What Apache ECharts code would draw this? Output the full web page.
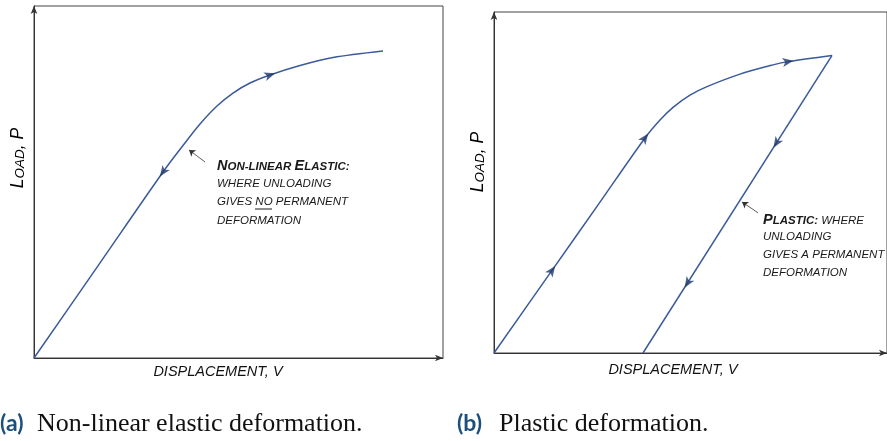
<!DOCTYPE html>
<html>
<head>
<meta charset="utf-8">
<script src="https://cdn.jsdelivr.net/npm/echarts@6/dist/echarts.min.js"></script>
<style>
    html, body { margin: 0; padding: 0; background: #fff; }
    #main { width: 887px; height: 441px; }
</style>
</head>
<body>
<div id="main"></div>
<script>
// (a) non-linear elastic: one loading/unloading path
const elasticX = [0, 15.77, 31.54, 36.43, 40.59, 44.74, 48.66, 52.81, 57.70, 65.04, 73.11, 85.33]
const elasticY = [0, 26.39, 52.84, 60.37, 66.48, 71.59, 75.28, 78.13, 80.40, 83.10, 85.37, 87.22]
// arrows: [x, y, dir]  dir 1 = along the array order, -1 = against it
const elasticArrows = [[57.70, 80.40, 1], [31.54, 52.84, -1]]

// (b) plastic: loading curve then straight unloading line
const loadX = [0, 14.76, 26.97, 38.42, 42.24, 45.55, 49.87, 54.20, 62.60, 70.99, 74.81, 86.01]
const loadY = [0, 24.22, 44.25, 63.05, 68.33, 72.05, 75.63, 78.12, 81.79, 84.49, 85.45, 87.27]
const unloadX = [86.01, 37.91]
const unloadY = [87.27, 0]
const loadArrows = [[14.76, 24.22, 1], [38.42, 63.05, 1], [74.81, 85.45, 1]]
const unloadArrows = [[71.86, 61.58, 1], [49.24, 20.53, 1]]

// callout pointers [from, to]
const elasticPointer = [[41.8, 55.7], [37.9, 59.1]]
const plasticPointer = [[67.2, 41.1], [63.1, 44.3]]

const curveColor = '#3a5a9a'
const arrowColor = '#1f3a6b'
const arrowPath = 'path://M5,0 L10,12 L5,9 L0,12 Z'

const chart = echarts.init(document.getElementById('main'))

const toPairs = (xs, ys) => xs.map((x, i) => [x, ys[i]])

const axisBase = {
    type: 'value',
    min: 0,
    max: 100,
    axisLine: {
        show: true,
        symbol: ['none', 'arrow'],
        symbolSize: [5, 8],
        lineStyle: { color: '#333', width: 1 }
    },
    axisTick: { show: false },
    axisLabel: { show: false },
    splitLine: { show: false }
}

const curve = (idx, xs, ys, pointer) => ({
    type: 'line',
    xAxisIndex: idx,
    yAxisIndex: idx,
    data: toPairs(xs, ys),
    smooth: 0.3,
    showSymbol: false,
    lineStyle: { color: curveColor, width: 1.5 },
    silent: true,
    markLine: pointer ? {
        silent: true,
        symbol: ['none', 'arrow'],
        symbolSize: 6,
        label: { show: false },
        lineStyle: { color: '#333', width: 0.8, type: 'solid' },
        data: [[{ coord: pointer[0] }, { coord: pointer[1] }]]
    } : undefined
})

const arrowSeries = (idx, name) => ({
    id: name,
    type: 'scatter',
    xAxisIndex: idx,
    yAxisIndex: idx,
    symbol: arrowPath,
    symbolSize: [9, 11],
    itemStyle: { color: arrowColor },
    silent: true,
    z: 5,
    data: []
})

const capsFont = { fontFamily: 'Liberation Sans', fontStyle: 'italic' }
const note = (x, y, text, rich) => ({
    type: 'text',
    x, y,
    style: {
        text,
        ...capsFont,
        fontSize: 11.5,
        fill: '#1a1a1a',
        verticalAlign: 'middle',
        rich
    }
})
const headRich = {
    b: { fontSize: 14.5, fontWeight: 'bold', fontStyle: 'italic', fontFamily: 'Liberation Sans', color: '#151515', verticalAlign: 'bottom', lineHeight: 16 },
    s: { fontSize: 11.5, fontWeight: 'bold', fontStyle: 'italic', fontFamily: 'Liberation Sans', color: '#151515', verticalAlign: 'bottom', lineHeight: 16 },
    n: { fontSize: 11.5, fontStyle: 'italic', fontFamily: 'Liberation Sans', color: '#1a1a1a', verticalAlign: 'bottom', lineHeight: 16 }
}
const loadLabel = (x, y) => ({
    type: 'text',
    x, y,
    rotation: Math.PI / 2,
    style: {
        text: '{b|L}{s|OAD}{b|, P}',
        align: 'center',
        verticalAlign: 'middle',
        rich: {
            b: { ...capsFont, fontSize: 17.5, color: '#111', verticalAlign: 'bottom', lineHeight: 20 },
            s: { ...capsFont, fontSize: 13.5, color: '#111', verticalAlign: 'bottom', lineHeight: 20 }
        }
    }
})
const dispLabel = (x, y) => ({
    type: 'text',
    x, y,
    style: {
        text: 'DISPLACEMENT, V',
        ...capsFont,
        fontSize: 14.5,
        fill: '#111',
        align: 'center',
        verticalAlign: 'middle'
    }
})
const caption = (x, tag, text, textX) => [
    {
        type: 'text', x, y: 424,
        style: { text: tag, fontFamily: 'Lato', fontWeight: 'bold', fontSize: 23, fill: '#1d4e7c', verticalAlign: 'middle' }
    },
    {
        type: 'text', x: textX, y: 424,
        style: { text, fontFamily: 'Liberation Serif', fontSize: 26, fill: '#111', verticalAlign: 'middle' }
    }
]

let option = {
    animation: false,
    backgroundColor: '#fff',
    grid: [
        { left: 34, top: 6, width: 409, height: 352, show: true, borderColor: '#444', borderWidth: 1 },
        { left: 494, top: 12, width: 393, height: 341, show: true, borderColor: '#444', borderWidth: 1 }
    ],
    xAxis: [
        { ...axisBase, gridIndex: 0 },
        { ...axisBase, gridIndex: 1 }
    ],
    yAxis: [
        { ...axisBase, gridIndex: 0 },
        { ...axisBase, gridIndex: 1 }
    ],
    series: [
        curve(0, elasticX, elasticY, elasticPointer),
        curve(1, loadX, loadY, null),
        curve(1, unloadX, unloadY, plasticPointer),
        arrowSeries(0, 'arrowsA'),
        arrowSeries(1, 'arrowsB')
    ],
    graphic: [
        loadLabel(17, 158),
        loadLabel(477, 162),
        dispLabel(218, 372),
        dispLabel(673, 370),
        note(217, 165, '{b|N}{s|ON-LINEAR} {b|E}{s|LASTIC:}', headRich),
        note(217, 184, 'WHERE UNLOADING'),
        note(217, 202, 'GIVES NO PERMANENT'),
        { type: 'line', shape: { x1: 255, y1: 209, x2: 272, y2: 209 }, style: { stroke: '#1a1a1a', lineWidth: 1 } },
        note(217, 221, 'DEFORMATION'),
        note(763, 219, '{b|P}{s|LASTIC:} {n|WHERE}', headRich),
        note(763, 237, 'UNLOADING'),
        note(763, 255, 'GIVES A PERMANENT'),
        note(763, 273, 'DEFORMATION'),
        ...caption(0, '(a)', 'Non-linear elastic deformation.', 37),
        ...caption(457, '(b)', 'Plastic deformation.', 499)
    ]
}
chart.setOption(option)

// rotate each arrowhead along the drawn path, measured in pixels
function arrowItems(gridIndex, xs, ys, arrows) {
    const pix = xs.map((x, i) => chart.convertToPixel({ gridIndex }, [x, ys[i]]))
    const sgn = xs[xs.length - 1] > xs[0] ? 1 : -1
    return arrows.map(([x, y, dir]) => {
        let a = 0, b = xs.length - 1
        xs.forEach((v, i) => { if ((v - x) * sgn < -1e-9) a = i })
        for (let i = xs.length - 1; i >= 0; i--) {
            if ((xs[i] - x) * sgn > 1e-9) b = i
        }
        const dx = (pix[b][0] - pix[a][0]) * dir
        const dy = (pix[b][1] - pix[a][1]) * dir
        const ang = Math.atan2(-dy, dx) * 180 / Math.PI
        return { value: [x, y], symbolRotate: ang - 90 }
    })
}

chart.setOption({
    series: [
        { id: 'arrowsA', data: arrowItems(0, elasticX, elasticY, elasticArrows) },
        {
            id: 'arrowsB',
            data: arrowItems(1, loadX, loadY, loadArrows)
                .concat(arrowItems(1, unloadX, unloadY, unloadArrows))
        }
    ]
})
</script>
</body>
</html>
